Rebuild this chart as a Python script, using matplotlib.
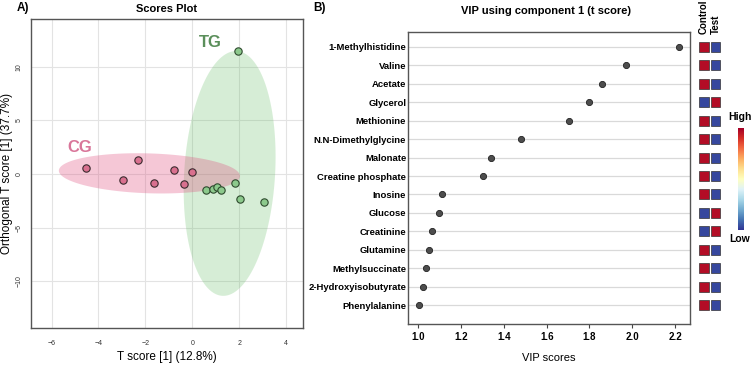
import numpy as np
import matplotlib.pyplot as plt
from matplotlib.patches import Ellipse, Polygon, Rectangle

plt.rcParams['font.family'] = ['Liberation Sans', 'DejaVu Sans']

# scores plot data
cg_x = [-4.53, -2.30, -2.96, -1.62, -0.78, -0.37, 0.00]
cg_y = [0.59, 1.28, -0.53, -0.81, 0.34, -0.90, 0.16]
tg_x = [1.94, 1.81, 0.57, 0.90, 1.07, 1.21, 2.03, 3.07]
tg_y = [11.47, -0.81, -1.52, -1.40, -1.21, -1.49, -2.33, -2.58]

# VIP data
metabolites = ['1-Methylhistidine', 'Valine', 'Acetate', 'Glycerol', 'Methionine',
               'N.N-Dimethylglycine', 'Malonate', 'Creatine phosphate', 'Inosine',
               'Glucose', 'Creatinine', 'Glutamine', 'Methylsuccinate',
               '2-Hydroxyisobutyrate', 'Phenylalanine']
vip = [2.22, 1.97, 1.86, 1.80, 1.705, 1.478, 1.341, 1.304, 1.11, 1.098,
       1.062, 1.049, 1.035, 1.022, 1.002]
control_high = [1, 1, 1, 0, 1, 1, 1, 1, 1, 0, 0, 1, 1, 1, 1]
groups = ['Control', 'Test']

W, H = 755, 367
fig = plt.figure(figsize=(W / 100, H / 100), dpi=100)


def box(l, t, r, b):
    return [l / W, (H - b) / H, (r - l) / W, (b - t) / H]


# ---------------- A) scores plot
ax = fig.add_axes(box(30.7, 19, 303.3, 327.7))
ax.set_xlim(-6.89, 4.73)
ax.set_ylim(-14.34, 14.46)
ax.set_xticks([-6, -4, -2, 0, 2, 4])
ax.set_yticks([-10, -5, 0, 5, 10])
ax.grid(color='#e3e3e3', lw=0.8)
ax.set_axisbelow(True)
for s in ax.spines.values():
    s.set_color('#555555')
    s.set_linewidth(1.0)
ax.tick_params(length=0, labelsize=5, labelcolor='#333333', pad=9)
ax.tick_params(axis='y', pad=6)
for lab in ax.get_yticklabels():
    lab.set_rotation(90)
    lab.set_va('center')

# green ellipse (slightly tilted), drawn as parametric polygon
t = np.linspace(0, 2 * np.pi, 200)
gx = 1.59 + 1.94 * np.cos(t) + 0.27 * np.sin(t)
gy = 0.05 + 11.42 * np.sin(t)
ax.add_patch(Polygon(np.column_stack([gx, gy]), closed=True,
                     facecolor='#5fbb5f', alpha=0.25, edgecolor='none', zorder=1))
px = -1.83 + 3.86 * np.cos(t)
py = 0.06 + 1.86 * np.sin(t) - 0.25 * np.cos(t)
ax.add_patch(Polygon(np.column_stack([px, py]), closed=True,
                     facecolor='#de487a', alpha=0.3, edgecolor='none', zorder=1))

ax.scatter(cg_x, cg_y, s=28, c='#d9708f', edgecolors='#3a2a2e', linewidths=0.8, zorder=3)
ax.scatter(tg_x, tg_y, s=28, c='#8cc98c', edgecolors='#2e4a2e', linewidths=0.8, zorder=3)
ax.text(0.76, 12.3, 'TG', color='#5b8f5b', fontsize=12, fontweight='bold',
        ha='center', va='center')
ax.text(-4.79, 2.5, 'CG', color='#d9769a', fontsize=12, fontweight='bold',
        ha='center', va='center')
ax.set_title('Scores Plot', fontsize=8, fontweight='bold', pad=5)
ax.set_xlabel('T score [1] (12.8%)', fontsize=8.5, labelpad=3)
ax.set_ylabel('Orthogonal T score [1] (37.7%)', fontsize=8.5, labelpad=2)
fig.text(17 / W, 1 - 8 / H, 'A)', fontsize=8.5, fontweight='bold', va='center')

# ---------------- B) VIP plot
bx = fig.add_axes(box(408.3, 31.7, 690, 324))
rows = np.arange(len(metabolites))
bx.set_xlim(0.953, 2.27)
bx.set_ylim(15.03, -0.83)
for r in rows:
    bx.axhline(r, color='#d9d9d9', lw=0.9, zorder=0)
bx.scatter(vip, rows, s=20, c='#4d4d4d', edgecolors='#222222', linewidths=0.6, zorder=3)
bx.set_yticks(rows)
bx.set_yticklabels(metabolites, fontsize=6.8, fontweight='bold')
bx.set_xticks([1.0, 1.2, 1.4, 1.6, 1.8, 2.0, 2.2])
bx.set_xticklabels(['1.0', '1.2', '1.4', '1.6', '1.8', '2.0', '2.2'],
                   fontsize=7, fontweight='bold')
bx.tick_params(axis='y', length=0, pad=1.5)
bx.tick_params(axis='x', length=3, color='#444444', pad=3)
for s in bx.spines.values():
    s.set_color('#555555')
    s.set_linewidth(1.0)
bx.set_xlabel('VIP scores', fontsize=8, labelpad=8)
fig.text(546 / W, 1 - 11 / H, 'VIP using component 1 (t score)', fontsize=8,
         fontweight='bold', ha='center', va='center')
fig.text(313 / W, 1 - 8 / H, 'B)', fontsize=8.5, fontweight='bold', va='center')

# heatmap squares
cmap = plt.get_cmap('RdYlBu_r')
hx = fig.add_axes(box(698.25, 31.7, 721.25, 324))
hx.set_xlim(-0.5, 1.5)
hx.set_ylim(15.03, -0.83)
hx.axis('off')
for r, ch in zip(rows, control_high):
    vals = [ch, 1 - ch]
    for c, v in enumerate(vals):
        col = cmap(0.97) if v == 1 else cmap(0.03)
        hx.add_patch(Rectangle((c - 0.41, r - 0.27), 0.82, 0.54, facecolor=col,
                               edgecolor='#333333', linewidth=0.5))
for c, g in enumerate(groups):
    hx.text(c, -0.68, g, rotation=90, ha='center', va='bottom', fontsize=7,
            fontweight='bold', clip_on=False)

# colour bar
cx = fig.add_axes(box(737.7, 128, 743.3, 230))
grad = np.linspace(1, 0, 200).reshape(-1, 1)
cx.imshow(grad, aspect='auto', cmap=cmap)
cx.set_xticks([])
cx.set_yticks([])
for s in cx.spines.values():
    s.set_visible(False)
fig.text(740 / W, 1 - 117 / H, 'High', fontsize=7.5, fontweight='bold', ha='center', va='center')
fig.text(740 / W, 1 - 239 / H, 'Low', fontsize=7.5, fontweight='bold', ha='center', va='center')

fig.savefig('out.png', dpi=100)
